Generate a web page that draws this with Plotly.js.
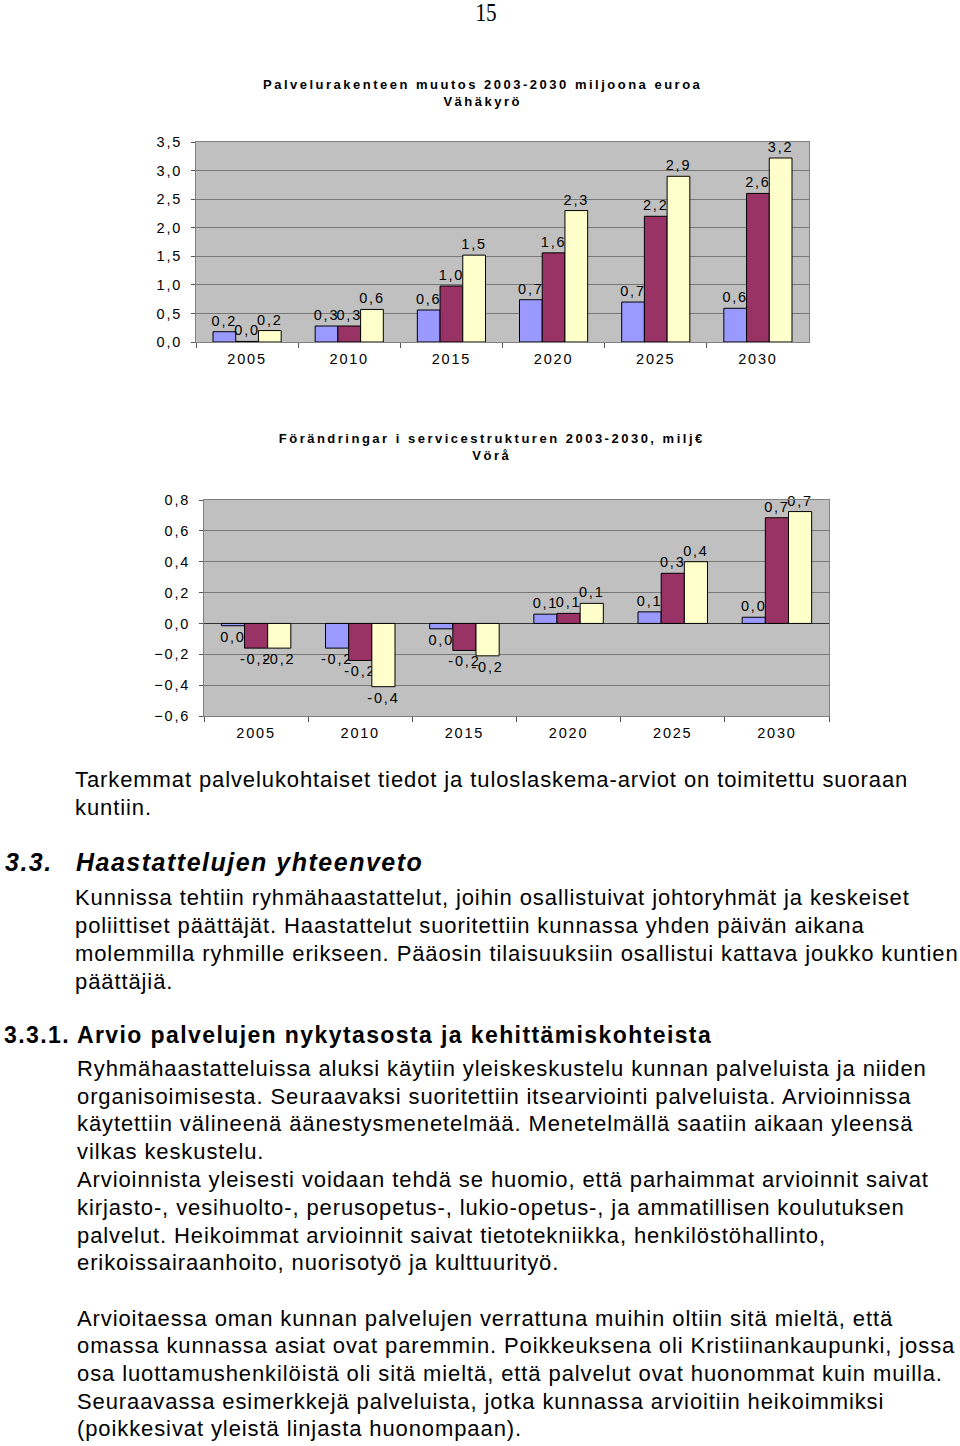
<!DOCTYPE html>
<html>
<head>
<meta charset="utf-8">
<script src="https://cdn.plot.ly/plotly-3.0.1.min.js"></script>
<style>
  html, body { margin: 0; padding: 0; background: #fff; }
  body { width: 960px; height: 1446px; position: relative; overflow: hidden; font-family: Arial, "Liberation Sans", sans-serif; color: #000; }
  #chart { position: absolute; left: 0; top: 0; width: 960px; height: 760px; }
  #chart text { letter-spacing: 1.8px; }
  #chart .annotation-text { letter-spacing: 2.5px; }
  .pg { position: absolute; left: 436px; width: 100px; top: 0px; text-align: center; font-family: "Liberation Serif", "Times New Roman", serif; font-size: 25px; line-height: 26px; transform: scaleX(0.85); }
  .ln { position: absolute; white-space: nowrap; font-size: 22px; line-height: 28px; letter-spacing: 0.9px; }
  .h1 { font-weight: bold; font-style: italic; font-size: 25px; letter-spacing: 1.5px; }
  .h2 { font-weight: bold; font-size: 23px; letter-spacing: 1.4px; }
</style>
</head>
<body>
<div class="pg">15</div>
<div id="chart"></div>
<div id="text"></div>
<script>
// ---- Data ----
var years = ['2005', '2010', '2015', '2020', '2025', '2030'];

// Chart 1: Vähäkyrö (milj. euroa)
var vk_series1 = [0.18, 0.28, 0.56, 0.74, 0.70, 0.59];
var vk_series2 = [0.01, 0.28, 0.98, 1.56, 2.20, 2.60];
var vk_series3 = [0.20, 0.57, 1.52, 2.30, 2.90, 3.22];

// Chart 2: Vörå (milj €)
var vo_series1 = [-0.015, -0.16, -0.035, 0.06, 0.075, 0.04];
var vo_series2 = [-0.16, -0.24, -0.175, 0.065, 0.325, 0.685];
var vo_series3 = [-0.16, -0.41, -0.21, 0.13, 0.40, 0.725];

var title1 = 'Palvelurakenteen muutos 2003-2030 miljoona euroa<br>Vähäkyrö';
var title2 = 'Förändringar i servicestrukturen 2003-2030, milj€<br>Vörå';

var colors = ['#9999FF', '#993366', '#FFFFCC'];

function fmt(v) {
  var r = Math.round(v * 10) / 10;
  if (r === 0) r = 0;
  return r.toFixed(1).replace('.', ',');
}

var FONT = 'Arial, "Liberation Sans", sans-serif';

function bars(vals, i, xa, ya) {
  return {
    type: 'bar', x: years, y: vals, xaxis: xa, yaxis: ya,
    marker: { color: colors[i], line: { color: '#000', width: 1 } },
    text: vals.map(fmt), textposition: 'outside', textangle: 0,
    constraintext: 'none', cliponaxis: false,
    textfont: { family: FONT, size: 14.5, color: '#000' },
    hoverinfo: 'skip', showlegend: false
  };
}

var data = [
  bars(vk_series1, 0, 'x', 'y'), bars(vk_series2, 1, 'x', 'y'), bars(vk_series3, 2, 'x', 'y'),
  bars(vo_series1, 0, 'x2', 'y2'), bars(vo_series2, 1, 'x2', 'y2'), bars(vo_series3, 2, 'x2', 'y2')
];

var H = 760, W = 960;
function xaxis(l, r, anchor) {
  return {
    domain: [l / W, r / W], anchor: anchor, type: 'category',
    showgrid: false, zeroline: false,
    showline: true, linecolor: '#808080', linewidth: 1, mirror: true,
    ticks: 'outside', ticklen: 5, tickcolor: '#555', tickson: 'boundaries',
    ticklabelstandoff: 4,
    tickfont: { family: FONT, size: 14.5, color: '#000' }, fixedrange: true
  };
}
function yaxis(t, b, anchor, range, dtick) {
  return {
    domain: [1 - b / H, 1 - t / H], anchor: anchor, range: range, dtick: dtick,
    tickformat: '.1f', showgrid: true, gridcolor: '#777777', gridwidth: 1,
    zeroline: true, zerolinecolor: '#333', zerolinewidth: 1,
    showline: true, linecolor: '#808080', linewidth: 1, mirror: true,
    ticks: 'outside', ticklen: 4, tickcolor: '#555',
    ticklabelstandoff: 6,
    tickfont: { family: FONT, size: 14.5, color: '#000' }, fixedrange: true
  };
}

var layout = {
  width: W, height: H, margin: { l: 0, r: 0, t: 0, b: 0 },
  paper_bgcolor: 'rgba(0,0,0,0)', plot_bgcolor: '#C0C0C0',
  separators: ', ',
  barmode: 'group', bargap: 0.333, bargroupgap: 0,
  xaxis: xaxis(196, 809, 'y'),
  yaxis: yaxis(142, 342, 'x', [0, 3.5], 0.5),
  xaxis2: xaxis(204, 829, 'y2'),
  yaxis2: yaxis(500, 716, 'x2', [-0.6, 0.8], 0.2),
  annotations: [
    { text: title1, xref: 'paper', yref: 'paper', x: 483 / W, y: 1 - 93 / H,
      xanchor: 'center', yanchor: 'middle', showarrow: false,
      font: { family: FONT, size: 13, color: '#000', weight: 'bold' } },
    { text: title2, xref: 'paper', yref: 'paper', x: 491 / W, y: 1 - 447 / H,
      xanchor: 'center', yanchor: 'middle', showarrow: false,
      font: { family: FONT, size: 13, color: '#000', weight: 'bold' } }
  ]
};

Plotly.newPlot('chart', data, layout, { staticPlot: true, displayModeBar: false });

// ---- Body text ----
var lines = [
  [780, 75, 'ln', 'Tarkemmat palvelukohtaiset tiedot ja tuloslaskema-arviot on toimitettu suoraan'],
  [808, 75, 'ln', 'kuntiin.'],
  [862, 5, 'ln h1', '3.3.'],
  [862, 76, 'ln h1', 'Haastattelujen yhteenveto'],
  [898, 75, 'ln', 'Kunnissa tehtiin ryhmähaastattelut, joihin osallistuivat johtoryhmät ja keskeiset'],
  [926, 75, 'ln', 'poliittiset päättäjät. Haastattelut suoritettiin kunnassa yhden päivän aikana'],
  [954, 75, 'ln', 'molemmilla ryhmille erikseen. Pääosin tilaisuuksiin osallistui kattava joukko kuntien'],
  [982, 75, 'ln', 'päättäjiä.'],
  [1035, 4, 'ln h2', '3.3.1.'],
  [1035, 77, 'ln h2', 'Arvio palvelujen nykytasosta ja kehittämiskohteista'],
  [1069, 77, 'ln', 'Ryhmähaastatteluissa aluksi käytiin yleiskeskustelu kunnan palveluista ja niiden'],
  [1097, 77, 'ln', 'organisoimisesta. Seuraavaksi suoritettiin itsearviointi palveluista. Arvioinnissa'],
  [1124, 77, 'ln', 'käytettiin välineenä äänestysmenetelmää. Menetelmällä saatiin aikaan yleensä'],
  [1152, 77, 'ln', 'vilkas keskustelu.'],
  [1180, 77, 'ln', 'Arvioinnista yleisesti voidaan tehdä se huomio, että parhaimmat arvioinnit saivat'],
  [1208, 77, 'ln', 'kirjasto-, vesihuolto-, perusopetus-, lukio-opetus-, ja ammatillisen koulutuksen'],
  [1236, 77, 'ln', 'palvelut. Heikoimmat arvioinnit saivat tietotekniikka, henkilöstöhallinto,'],
  [1263, 77, 'ln', 'erikoissairaanhoito, nuorisotyö ja kulttuurityö.'],
  [1319, 77, 'ln', 'Arvioitaessa oman kunnan palvelujen verrattuna muihin oltiin sitä mieltä, että'],
  [1346, 77, 'ln', 'omassa kunnassa asiat ovat paremmin. Poikkeuksena oli Kristiinankaupunki, jossa'],
  [1374, 77, 'ln', 'osa luottamushenkilöistä oli sitä mieltä, että palvelut ovat huonommat kuin muilla.'],
  [1402, 77, 'ln', 'Seuraavassa esimerkkejä palveluista, jotka kunnassa arvioitiin heikoimmiksi'],
  [1429, 77, 'ln', '(poikkesivat yleistä linjasta huonompaan).']
];
var holder = document.getElementById('text');
lines.forEach(function (l) {
  var d = document.createElement('div');
  d.className = l[2];
  d.style.top = (l[0] - 14) + 'px';
  d.style.left = l[1] + 'px';
  d.textContent = l[3];
  holder.appendChild(d);
});
</script>
</body>
</html>
